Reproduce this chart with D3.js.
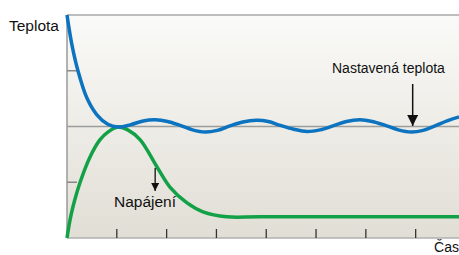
<!DOCTYPE html>
<meta charset="utf-8">
<style>
body { margin: 0; background: #fff; }
text { font-family: "Liberation Sans", Arial, sans-serif; fill: #111; }
</style>
<svg width="459" height="255"></svg>
<script src="https://d3js.org/d3.v7.min.js"></script>
<script>

// time (axis units) and temperature values
var blueT = [0, 0.1, 0.22, 0.4, 0.6, 0.82, 1.02, 1.27, 1.53, 1.77, 2.02, 2.27, 2.52, 2.77, 3.02, 3.27, 3.53, 3.8, 4.04, 4.28, 4.55, 4.82, 5.08, 5.34, 5.61, 5.88, 6.13, 6.39, 6.65, 6.91, 7.15, 7.39, 7.63, 7.87];
var blueV = [4.0, 3.46, 3.0, 2.51, 2.21, 2.04, 1.99, 2.03, 2.10, 2.12, 2.09, 2.02, 1.94, 1.90, 1.93, 2.01, 2.08, 2.11, 2.09, 2.02, 1.95, 1.91, 1.94, 2.01, 2.09, 2.12, 2.09, 2.02, 1.94, 1.90, 1.93, 2.01, 2.10, 2.17];
var greenT = [0, 0.06, 0.12, 0.26, 0.46, 0.66, 0.82, 1.02, 1.22, 1.47, 1.81, 2.07, 2.41, 2.73, 3.21, 3.88, 7.87];
var greenV = [0, 0.32, 0.56, 0.99, 1.45, 1.76, 1.90, 1.99, 1.94, 1.76, 1.27, 0.91, 0.63, 0.47, 0.38, 0.38, 0.38];
var xTicks = [1, 2, 3, 4, 5, 6, 7];
var yTicks = [1, 3];
var setpoint = 2;

var svg = d3.select("svg"),
    margin = {top: 15, right: 0, bottom: 17, left: 67},
    width = +svg.attr("width") - margin.left - margin.right,
    height = +svg.attr("height") - margin.top - margin.bottom;

var x = d3.scaleLinear().domain([0, 7.87]).range([0, width]),
    y = d3.scaleLinear().domain([0, 4]).range([height, 0]);

var defs = svg.append("defs");
var grad = defs.append("linearGradient")
    .attr("id", "bg").attr("x1", 0).attr("y1", 0).attr("x2", 0).attr("y2", 1);
grad.append("stop").attr("offset", "0%").attr("stop-color", "#fafaf8");
grad.append("stop").attr("offset", "100%").attr("stop-color", "#e1ded5");

function head(id, w, h) {
  defs.append("marker")
      .attr("id", id)
      .attr("viewBox", "0 0 10 10")
      .attr("refX", 10).attr("refY", 5)
      .attr("markerUnits", "userSpaceOnUse")
      .attr("markerWidth", w).attr("markerHeight", h)
      .attr("orient", "auto")
    .append("path")
      .attr("d", "M0,0L10,5L0,10Z")
      .attr("fill", "#111");
}
head("big", 17, 11);
head("small", 11, 8);

var g = svg.append("g")
    .attr("transform", "translate(" + margin.left + "," + margin.top + ")");

g.append("rect")
    .attr("width", width).attr("height", height)
    .attr("fill", "url(#bg)");

// frame
g.append("line").attr("x1", 0).attr("x2", width).attr("y1", 0).attr("y2", 0)
    .attr("stroke", "#bdbdbd").attr("stroke-width", 2);
g.append("line").attr("x1", 0).attr("x2", width).attr("y1", height).attr("y2", height)
    .attr("stroke", "#b0b0b0").attr("stroke-width", 1.5);
g.append("line").attr("x1", 0).attr("x2", 0).attr("y1", 0).attr("y2", height)
    .attr("stroke", "#9a9a9a").attr("stroke-width", 1.5);

// ticks
g.selectAll(".xt").data(xTicks).enter().append("line")
    .attr("x1", function(d) { return x(d); })
    .attr("x2", function(d) { return x(d); })
    .attr("y1", height - 9).attr("y2", height)
    .attr("stroke", "#333").attr("stroke-width", 1.3);

g.selectAll(".yt").data(yTicks).enter().append("line")
    .attr("x1", 0).attr("x2", 10)
    .attr("y1", function(d) { return y(d); })
    .attr("y2", function(d) { return y(d); })
    .attr("stroke", "#888").attr("stroke-width", 1.5);

// setpoint
g.append("line")
    .attr("x1", 0).attr("x2", width)
    .attr("y1", y(setpoint)).attr("y2", y(setpoint))
    .attr("stroke", "#9d9d9d").attr("stroke-width", 1.5);

var line = d3.line()
    .x(function(d) { return x(d[0]); })
    .y(function(d) { return y(d[1]); })
    .curve(d3.curveCatmullRom);

g.append("path")
    .datum(d3.zip(greenT, greenV))
    .attr("d", line)
    .attr("fill", "none")
    .attr("stroke", "#12a146")
    .attr("stroke-width", 3.5);

g.append("path")
    .datum(d3.zip(blueT, blueV))
    .attr("d", line)
    .attr("fill", "none")
    .attr("stroke", "#0b73bf")
    .attr("stroke-width", 3.5);

// arrows
g.append("line")
    .attr("x1", x(6.94)).attr("x2", x(6.94))
    .attr("y1", 69).attr("y2", 111)
    .attr("stroke", "#111").attr("stroke-width", 1.5)
    .attr("marker-end", "url(#big)");

g.append("line")
    .attr("x1", x(1.77)).attr("x2", x(1.77))
    .attr("y1", 153).attr("y2", 176)
    .attr("stroke", "#111").attr("stroke-width", 1.3)
    .attr("marker-end", "url(#small)");

// labels
svg.append("text").attr("x", 9).attr("y", 31).style("font-size", "15.5px").text("Teplota");
svg.append("text").attr("x", 332).attr("y", 73).style("font-size", "14px").text("Nastavená teplota");
svg.append("text").attr("x", 114).attr("y", 207).style("font-size", "15.5px").text("Napájení");
svg.append("text").attr("x", 459).attr("y", 252).attr("text-anchor", "end").style("font-size", "14px").text("Čas");

</script>
